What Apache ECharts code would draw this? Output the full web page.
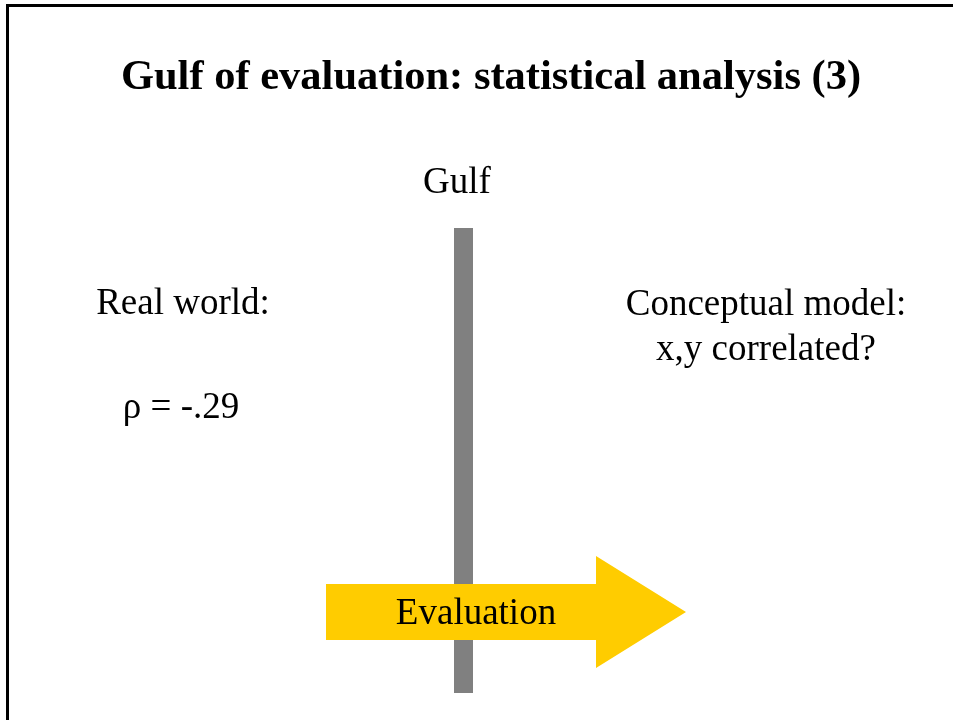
<!DOCTYPE html>
<html>
<head>
<meta charset="utf-8">
<script src="https://cdn.jsdelivr.net/npm/echarts@6/dist/echarts.min.js"></script>
<style>
html,body{margin:0;padding:0;background:#fff;}
#chart{width:953px;height:720px;}
</style>
</head>
<body>
<div id="chart"></div>
<script>
// Slide content (text)
const titleText = 'Gulf of evaluation: statistical analysis (3)';
const labelTexts = ['Gulf', 'Real world:', 'ρ = -.29', 'Conceptual model:', 'x,y correlated?', 'Evaluation'];
const labelX = [457, 183, 181, 766, 766, 476];
const labelY = [183, 304, 408, 305, 350, 614];

// Diagram shapes in slide coordinates
const gulfBar = [[454, 228], [473, 693]];
const arrowPoints = [[326, 584], [596, 584], [596, 556], [686, 612], [596, 668], [596, 640], [326, 640]];

const SERIF = "'Liberation Serif','Times New Roman',serif";
const chart = echarts.init(document.getElementById('chart'), null, {renderer: 'canvas'});

chart.setOption({
  backgroundColor: '#fff',
  animation: false,
  title: {
    text: titleText,
    left: 486, top: 73, textAlign: 'center', textVerticalAlign: 'middle',
    textStyle: {fontFamily: SERIF, fontWeight: 'bold', fontSize: 42.5, color: '#000'}
  },
  grid: {left: 0, right: 0, top: 0, bottom: 0},
  xAxis: {type: 'value', min: 0, max: 953, show: false},
  yAxis: {type: 'value', min: 0, max: 720, inverse: true, show: false},
  graphic: [{
    type: 'rect', z: 100,
    shape: {x: 7.5, y: 5.5, width: 1200, height: 1200},
    style: {fill: 'none', stroke: '#000', lineWidth: 3}
  }],
  series: [
    {
      type: 'custom', z: 1,
      data: [gulfBar[0].concat(gulfBar[1])],
      renderItem: function (params, api) {
        const p0 = api.coord([api.value(0), api.value(1)]);
        const p1 = api.coord([api.value(2), api.value(3)]);
        return {type: 'rect', shape: {x: p0[0], y: p0[1], width: p1[0] - p0[0], height: p1[1] - p0[1]},
                style: {fill: '#808080'}};
      }
    },
    {
      type: 'custom', z: 2,
      data: [arrowPoints.flat()],
      renderItem: function (params, api) {
        const pts = [];
        for (let i = 0; i < arrowPoints.length; i++) {
          pts.push(api.coord([api.value(2 * i), api.value(2 * i + 1)]));
        }
        return {type: 'polygon', shape: {points: pts}, style: {fill: '#FFCC00'}};
      }
    },
    {
      type: 'custom', z: 3,
      data: labelTexts.map((t, i) => [labelX[i], labelY[i], i]),
      renderItem: function (params, api) {
        const p = api.coord([api.value(0), api.value(1)]);
        return {type: 'text', x: p[0], y: p[1],
                style: {text: labelTexts[api.value(2)], font: '37px ' + SERIF, fill: '#000',
                        align: 'center', verticalAlign: 'middle'}};
      }
    }
  ]
});
</script>
</body>
</html>
